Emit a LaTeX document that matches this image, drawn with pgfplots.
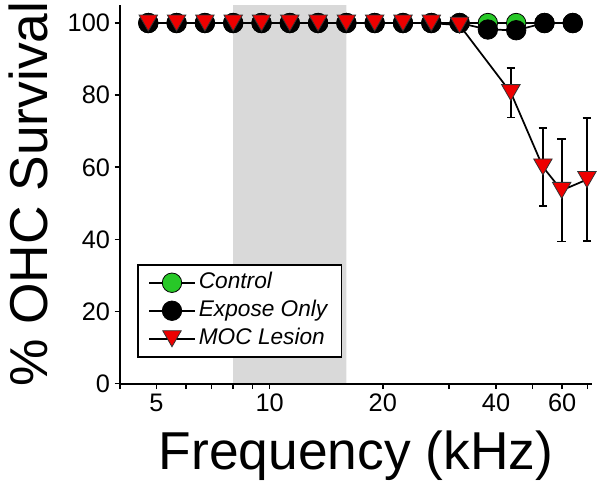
\documentclass[border=0pt]{standalone}
\usepackage{pgfplots}
\pgfplotsset{compat=1.18}
\usepackage{fontspec}
\setmainfont{Liberation Sans}
\usetikzlibrary{calc}
\definecolor{cgreen}{RGB}{40,200,40}
\definecolor{cred}{RGB}{238,0,0}
\definecolor{bandgray}{RGB}{217,217,217}
\begin{document}
\begin{tikzpicture}
\begin{axis}[
  scale only axis, width=354pt, height=284pt,
  xmode=log, xmin=4, xmax=72, ymin=0, ymax=105,
  axis lines=left, axis line style={-, line width=1.3pt},
  axis on top,
  xtick={5,10,20,40,60}, xticklabels={5,10,20,40,60},
  minor xtick={4,6,7,8,9,30,50,70},
  ytick={0,20,40,60,80,100},
  tick align=outside,
  major tick length=4pt, minor tick length=4pt,
  every tick/.style={black, line width=1.2pt},
  ticklabel style={font=\fontsize{19}{22}\selectfont},
  /pgf/number format/assume math mode=true,
  xlabel={Frequency (kHz)}, ylabel={\% OHC Survival},
  label style={font=\fontsize{40}{46}\selectfont},
  xlabel style={at={(axis description cs:0.5,-0.227)}, anchor=base},
  ylabel style={at={(axis description cs:-0.195,0.5)}, anchor=center},
  legend style={at={(rel axis cs:0.036,0.069)}, anchor=south west,
    draw=black, line width=1.2pt, inner xsep=8pt, inner ysep=3pt,
    row sep=0pt,
    font=\itshape\fontsize{17}{20}\selectfont,
    nodes={text height=12.5pt, text depth=3.5pt, inner sep=2.5pt}},
  legend cell align=left,
  legend image code/.code={\draw[mark repeat=2,mark phase=2,#1] plot coordinates {(0pt,0pt)(17pt,0pt)(34pt,0pt)};},
]
\coordinate (bl) at (rel axis cs:0,0);
\coordinate (tr) at (rel axis cs:1,1);
\addplot[fill=bandgray, draw=none, forget plot] coordinates {(8,0) (8,105) (16,105) (16,0)} \closedcycle;

\addplot[black, line width=1.3pt, mark=*, mark size=7.3pt,
  mark options={fill=cgreen, draw=black, line width=0.6pt}]
  coordinates {
  (4.757,100) (5.657,100) (6.727,100) (8,100) (9.514,100) (11.314,100)
  (13.454,100) (16,100) (19.027,100) (22.627,100) (26.909,100) (32,100)
  (38.055,100) (45.255,100) (53.817,100) (64,100)};
\addlegendentry{Control}

\addplot[black, line width=1.3pt, mark=*, mark size=7.3pt,
  mark options={fill=black, draw=black, line width=0.6pt}]
  coordinates {
  (4.757,100) (5.657,100) (6.727,100) (8,100) (9.514,100) (11.314,100)
  (13.454,100) (16,100) (19.027,100) (22.627,100) (26.909,100) (32,100)
  (38.055,98.2) (45.255,98.0) (53.817,100) (64,100)};
\addlegendentry{Expose Only}

\addplot[black, line width=1.3pt, mark=triangle*, mark size=8pt,
  mark options={yshift=2pt, rotate=180, fill=cred, draw=black!80, line width=0.6pt},
  error bars/.cd, y dir=both, y explicit,
  error bar style={line width=1.3pt, black},
  error mark options={rotate=90, mark size=3.2pt, line width=1.3pt, black}]
  coordinates {
  (4.757,100) +- (0,0) (5.657,100) +- (0,0) (6.727,100) +- (0,0) (8,100) +- (0,0)
  (9.514,100) +- (0,0) (11.314,100) +- (0,0) (13.454,100) +- (0,0) (16,100) +- (0,0)
  (19.027,100) +- (0,0) (22.627,100) +- (0,0) (26.909,100) +- (0,0) (32,99.4) +- (0,0)
  (43.8,80.7) +- (0,6.9) (53.3,60.1) +- (0,10.8) (59.8,53.6) +- (0,14.2) (69.8,56.6) +- (0,17.1)};
\addlegendentry{MOC Lesion}
\end{axis}
\pgfresetboundingbox
\path ($(bl)+(-90pt,-76.5pt)$) rectangle ($(tr)+(6pt,3.75pt)$);
\end{tikzpicture}
\end{document}
